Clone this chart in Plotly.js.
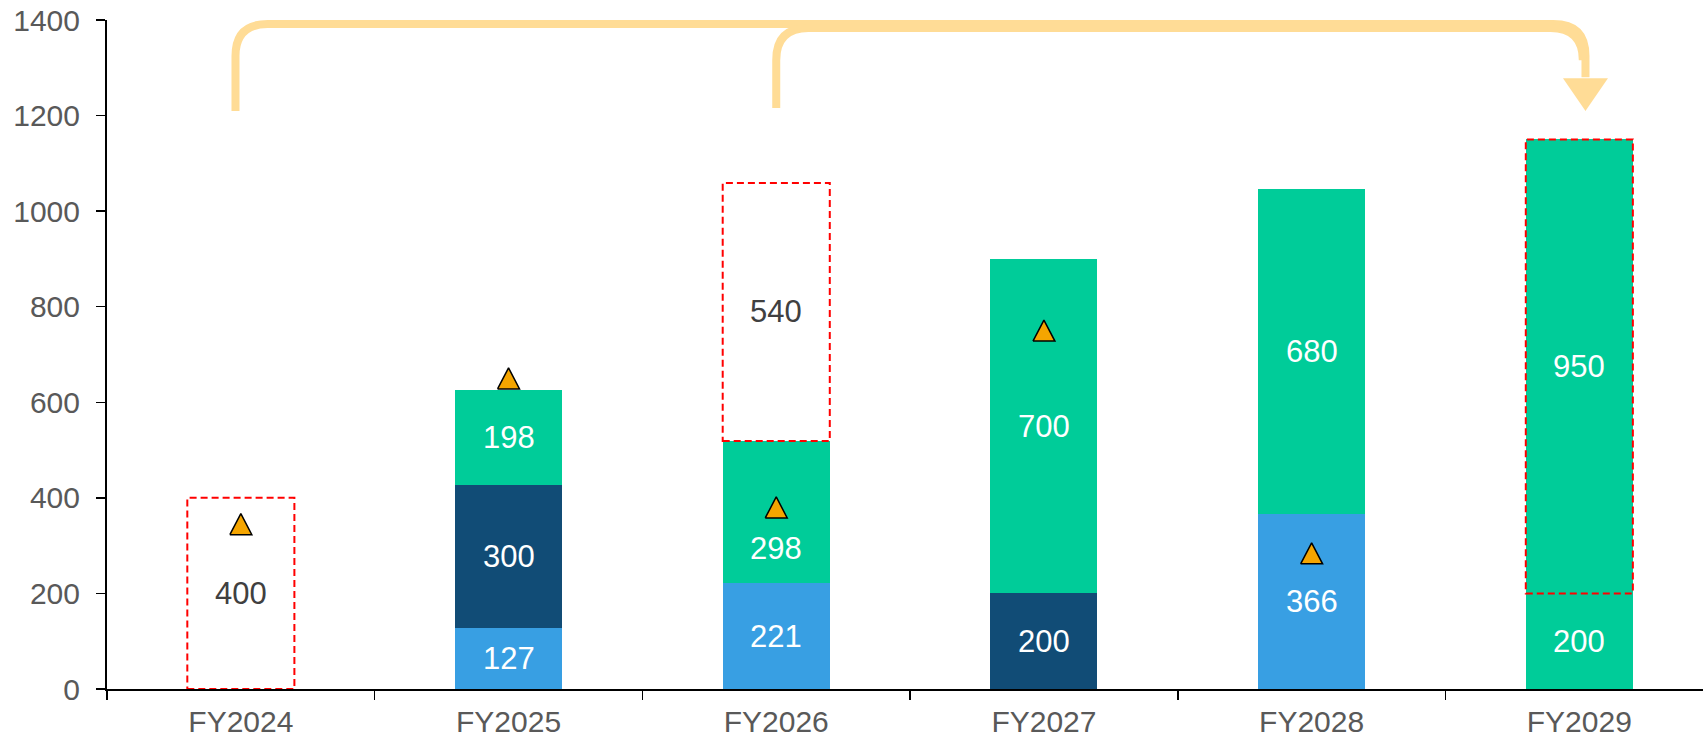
<!DOCTYPE html>
<html>
<head>
<meta charset="utf-8">
<script src="https://cdn.plot.ly/plotly-3.0.1.min.js"></script>
<style>
  html, body { margin: 0; padding: 0; background: #ffffff; }
  #chart { width: 1703px; height: 746px; }
</style>
</head>
<body>
<div id="chart"></div>
<script>
// ---- data ----
var categories = ['FY2024', 'FY2025', 'FY2026', 'FY2027', 'FY2028', 'FY2029'];
var lightBlue  = [0, 127, 221, 0, 366, 0];
var navy       = [0, 300, 0, 200, 0, 0];
var green      = [0, 198, 298, 700, 680, 200];
var planned    = [400, 0, 540, 0, 0, 950];
var triangles  = [345, 650, 380, 750, 284, null];
var yTicks     = [0, 200, 400, 600, 800, 1000, 1200, 1400];

// ---- style ----
var C_LIGHT = '#389FE3', C_NAVY = '#114C76', C_GREEN = '#00CC99';
var C_TRI = '#F5A500', C_ARROW = '#FFDC96', C_DASH = '#FF0000';
var FONT = 'Liberation Sans, Arial, sans-serif';
var plannedFill = ['rgba(0,0,0,0)', 'rgba(0,0,0,0)', 'rgba(0,0,0,0)', 'rgba(0,0,0,0)', 'rgba(0,0,0,0)', C_GREEN];
var plannedText = ['#404040', '#404040', '#404040', '#404040', '#404040', '#FFFFFF'];
var greenLabelShift = [0, 0, -36, 0, 0, 0];
var XR = [-0.5, 5.462];
var BARW = 0.4;

var series = [
  {name: 'a', vals: lightBlue, color: C_LIGHT},
  {name: 'b', vals: navy, color: C_NAVY},
  {name: 'c', vals: green, color: C_GREEN},
  {name: 'd', vals: planned, color: plannedFill}
];

var traces = [];
var annotations = [];
var shapes = [];
var base = categories.map(function(){ return 0; });

series.forEach(function(s, si) {
  traces.push({
    type: 'bar', x: categories, y: s.vals, name: s.name,
    marker: {color: s.color, line: {width: 0}},
    width: BARW, hoverinfo: 'skip', showlegend: false
  });
  s.vals.forEach(function(v, j) {
    if (v > 0) {
      var col = (si === 3) ? plannedText[j] : '#FFFFFF';
      annotations.push({
        x: categories[j], y: base[j] + v / 2, xref: 'x', yref: 'y',
        text: String(v), showarrow: false,
        yshift: (si === 2) ? greenLabelShift[j] : 0,
        font: {family: FONT, size: 31, color: col}
      });
      if (si === 3) {
        shapes.push({
          type: 'rect', xref: 'x', yref: 'y', layer: 'above',
          x0: j - BARW / 2, x1: j + BARW / 2, y0: base[j], y1: base[j] + v,
          line: {color: C_DASH, width: 2, dash: '7px,4px'},
          fillcolor: 'rgba(0,0,0,0)'
        });
      }
    }
    base[j] += v;
  });
});

// triangles as polygons on an overlaid linear x axis
var HW = 0.041, HH = 22;
var tx = [], ty = [];
triangles.forEach(function(v, j) {
  if (v === null) return;
  tx.push(j - HW, j + HW, j, j - HW, null);
  ty.push(v - HH, v - HH, v + HH, v - HH, null);
});
traces.push({
  type: 'scatter', mode: 'lines', x: tx, y: ty, xaxis: 'x2', yaxis: 'y',
  fill: 'toself', fillcolor: C_TRI, line: {color: '#000000', width: 1.5},
  hoverinfo: 'skip', showlegend: false
});

// decorative connector arrows (x2 linear coordinates)
var yTop1 = 1391.6, yTop2 = 1383, RX = 0.12, RY = 67;
var xa = -0.02, xb = 2.0, xe = 5.023;
var yBot1 = 1209.5, yBot2 = 1215.8, yHead = 1278, yTip = 1209.5;
shapes.push({
  type: 'path', xref: 'x2', yref: 'y', layer: 'above',
  path: 'M ' + xa + ',' + yBot1 + ' L ' + xa + ',' + (yTop1 - RY) +
        ' Q ' + xa + ',' + yTop1 + ' ' + (xa + RX) + ',' + yTop1 +
        ' L ' + (xe - RX) + ',' + yTop1 +
        ' Q ' + xe + ',' + yTop1 + ' ' + xe + ',' + (yTop1 - RY) +
        ' L ' + xe + ',' + (yHead + 2),
  line: {color: C_ARROW, width: 8}
});
shapes.push({
  type: 'path', xref: 'x2', yref: 'y', layer: 'above',
  path: 'M ' + xb + ',' + yBot2 + ' L ' + xb + ',' + (yTop2 - RY) +
        ' Q ' + xb + ',' + yTop2 + ' ' + (xb + RX) + ',' + yTop2 +
        ' L ' + (xe - RX - 0.01) + ',' + yTop2 +
        ' Q ' + (xe - 0.01) + ',' + yTop2 + ' ' + (xe - 0.01) + ',' + (yTop2 - RY),
  line: {color: C_ARROW, width: 8}
});
shapes.push({
  type: 'path', xref: 'x2', yref: 'y', layer: 'above',
  path: 'M ' + (xe - 0.084) + ',' + yHead + ' L ' + (xe + 0.084) + ',' + yHead +
        ' L ' + xe + ',' + yTip + ' Z',
  fillcolor: C_ARROW, line: {width: 0}
});

var layout = {
  width: 1703, height: 746,
  margin: {l: 107, r: 0, t: 20, b: 57, pad: 0},
  paper_bgcolor: '#FFFFFF', plot_bgcolor: '#FFFFFF',
  barmode: 'stack', showlegend: false,
  font: {family: FONT, size: 30, color: '#595959'},
  xaxis: {
    type: 'category', range: XR, showgrid: false, zeroline: false,
    showline: true, linecolor: '#000000', linewidth: 2,
    ticks: 'outside', tickson: 'boundaries', ticklen: 9, tickwidth: 1.5, tickcolor: '#000000',
    ticklabelstandoff: 5,
    tickfont: {family: FONT, size: 30, color: '#595959'}, fixedrange: true
  },
  xaxis2: {overlaying: 'x', anchor: 'y', range: XR, visible: false, fixedrange: true},
  yaxis: {
    range: [0, 1400], tickvals: yTicks, showgrid: false, zeroline: false,
    showline: true, linecolor: '#000000', linewidth: 2,
    ticks: 'outside', ticklen: 9, tickwidth: 1.5, tickcolor: '#000000',
    ticklabelstandoff: 10,
    tickfont: {family: FONT, size: 30, color: '#595959'}, fixedrange: true
  },
  shapes: shapes,
  annotations: annotations
};

Plotly.newPlot('chart', traces, layout, {displayModeBar: false, staticPlot: true});
</script>
</body>
</html>
